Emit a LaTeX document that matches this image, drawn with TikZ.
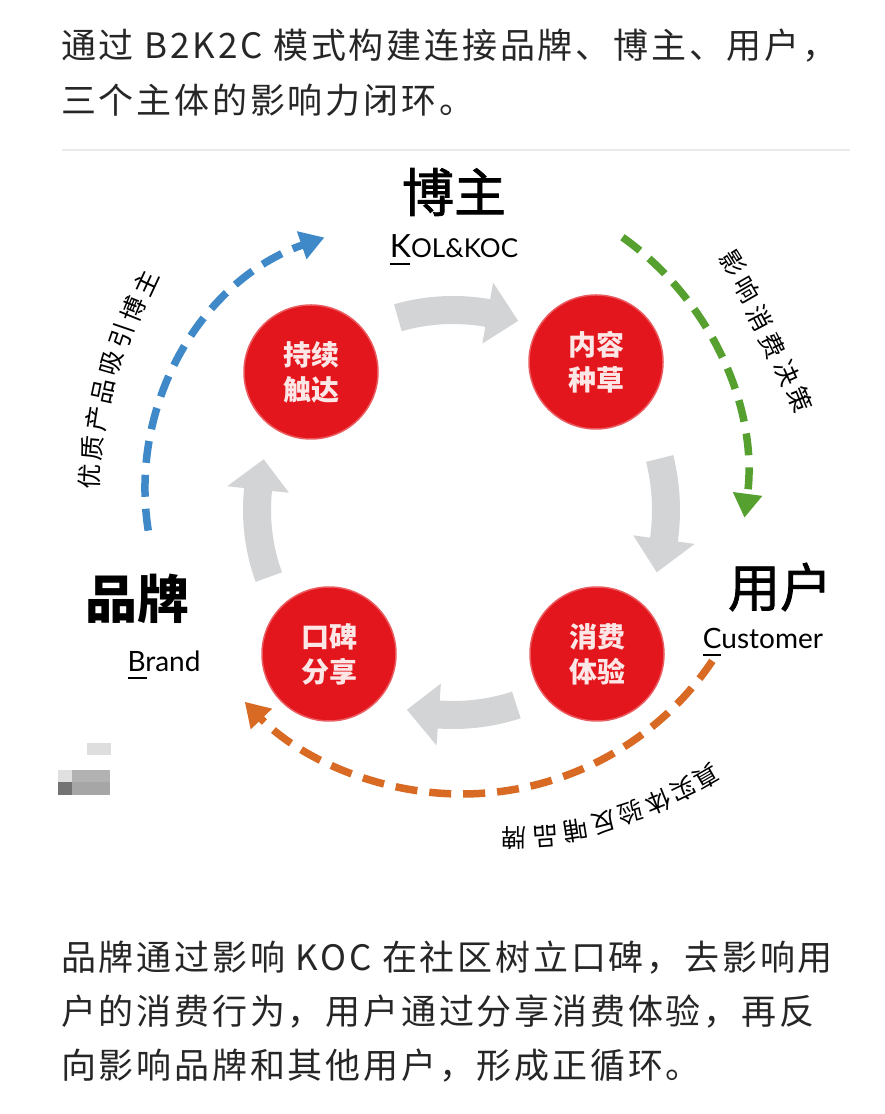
\documentclass[tikz,border=0pt]{standalone}
\usepackage{fontspec}
\setmainfont{Noto Sans CJK SC}
\newfontfamily\cjk{Noto Sans CJK SC}
\newfontfamily\cjkls[LetterSpace=8]{Noto Sans CJK SC}
\newfontfamily\cjkm[FakeBold=1.5]{Noto Sans CJK SC}
\newfontfamily\lat{Lato}
\usetikzlibrary{arrows.meta}
\definecolor{txt}{HTML}{262626}
\definecolor{redc}{HTML}{E3161D}
\definecolor{pinkt}{HTML}{FCE6E6}
\definecolor{grayarr}{HTML}{D3D4D6}
\definecolor{bluea}{HTML}{3F89C8}
\definecolor{greena}{HTML}{55A02F}
\definecolor{orangea}{HTML}{D96A24}
\newcommand\myul[2]{\makebox[0pt][l]{\rule[-7pt]{#1}{1.6pt}}#2}
\newcommand\grarrow[6]{%
  \pgfmathsetmacro\rA{#3+14}\pgfmathsetmacro\rB{#3-14}%
  \pgfmathsetmacro\rC{#3+31}\pgfmathsetmacro\rD{#3-31}%
  \fill[grayarr] ([shift={(#2)}]#4:\rA) arc[start angle=#4, end angle=#5, radius=\rA]
    -- ([shift={(#2)}]#5:\rC) -- ([shift={(#2)}]#6:#3) -- ([shift={(#2)}]#5:\rD)
    -- ([shift={(#2)}]#5:\rB) arc[start angle=#5, end angle=#4, radius=\rB] -- cycle;}
\tikzset{
  maintext/.style={anchor=west, inner sep=0pt, text=txt, font=\cjkls\fontsize{35}{35}\selectfont},
  redcirc/.style={circle, fill=redc, draw=redc!70, line width=1.5pt, minimum size=134pt, inner sep=0pt,
    text=pinkt, align=center, font=\bfseries\fontsize{28}{35}\selectfont},
  dasharc/.style={line width=7.5pt, dash pattern=on 22pt off 12pt, -{Triangle[length=24pt,width=28pt]}},
  arctext/.style={inner sep=0pt, text=black, font=\cjk\fontsize{25}{25}\selectfont},
  biglabel/.style={inner sep=0pt, text=black, font=\cjkm\fontsize{52}{52}\selectfont},
  latlabel/.style={inner sep=0pt, text=black, font=\lat\fontsize{28}{28}\selectfont}
}
\begin{document}
\begin{tikzpicture}[x=1pt,y=1pt]
\useasboundingbox (0,0) rectangle (884,1114);
\fill[white] (0,0) rectangle (884,1114);
% faint panel edge
\draw[black!8, line width=2pt] (62,964) -- (850,964);

% top text
\node[maintext] (t1) at (61,1068) {通过 B2K2C 模式构建连接品牌、博主、用户，};
\node[maintext] (t2) at (61,1014) {三个主体的影响力闭环。};

% bottom text
\node[maintext] (b1) at (61,156) {品牌通过影响 KOC 在社区树立口碑，去影响用};
\node[maintext] (b2) at (61,102) {户的消费行为，用户通过分享消费体验，再反};
\node[maintext] (b3) at (61,48) {向影响品牌和其他用户，形成正循环。};

% red circles
\node[redcirc] (c1) at (311,742) {持续\\触达};
\node[redcirc] (c2) at (596,752) {内容\\种草};
\node[redcirc] (c3) at (597,460) {消费\\体验};
\node[redcirc] (c4) at (329,460) {口碑\\分享};

% gray curved arrows
\coordinate (gc) at (453,604);
\grarrow{}{gc}{200}{106}{80}{71}
\grarrow{}{gc}{213}{14}{-8}{-17}
\grarrow{}{gc}{205}{-72}{-94}{-103}
\grarrow{}{gc}{196}{200}{174}{165}

% labels
\node[biglabel] (bozhu) at (454,922) {博主};
\node[latlabel] (kol) at (454,864) {\myul{20pt}{\fontsize{32}{32}\selectfont K}\fontsize{26}{26}\selectfont OL\&KOC};
\node[biglabel] (yonghu) at (780,527) {用户};
\node[latlabel] (cust) at (763,472) {\myul{18pt}{C}ustomer};
\node[biglabel, font=\bfseries\fontsize{52}{52}\selectfont] (pinpai) at (137,515) {品牌};
\node[latlabel] (brand) at (164,449) {\myul{19pt}{B}rand};

% dashed arcs
\coordinate (bS) at ([shift={(411,625)}]189:266);
\draw[dasharc, bluea] (bS) arc[start angle=189, end angle=109, radius=266];
\coordinate (gS) at ([shift={(450,635)}]54.5:297);
\draw[dasharc, greena] (gS) arc[start angle=54.5, end angle=-7.5, radius=297];
\coordinate (oS) at ([shift={(462,622)}]-34:302);
\draw[dasharc, orangea] (oS) arc[start angle=-34, end angle=-136, radius=302];

% arc texts
\foreach \c/\x/\y/\r [count=\i] in {优/89/477/88, 质/92/448/85, 产/97/419/81, 品/103/391/78, 吸/112/363/74, 引/122/336/71, 博/133/309/68, 主/146/283/65}
  \node[arctext, rotate=\r] (bt\i) at (\x,1114-\y) {\c};
\foreach \c/\x/\y/\r [count=\i] in {影/733/263/-58, 响/747/290/-60, 消/760/318/-62, 费/773/346/-64, 决/787/373/-66, 策/800/400/-68}
  \node[arctext, rotate=\r] (gt\i) at (\x,1114-\y) {\c};
\foreach \c/\x/\y/\r [count=\i] in {真/706/777/210, 实/683/790/206, 体/658/802/202, 验/631/813/198, 反/604/823/194, 哺/576/831/189, 品/546/836/184, 牌/514/838/180}
  \node[arctext, rotate=\r] (ot\i) at (\x,1114-\y) {\c};

% small gray mark
\fill[black!13] (87,359) rectangle (111,371);
\fill[black!12] (58,332) rectangle (72,344);
\fill[black!30] (72,332) rectangle (110,344);
\fill[black!55] (58,319) rectangle (72,332);
\fill[black!35] (72,319) rectangle (110,332);
\end{tikzpicture}
\end{document}
